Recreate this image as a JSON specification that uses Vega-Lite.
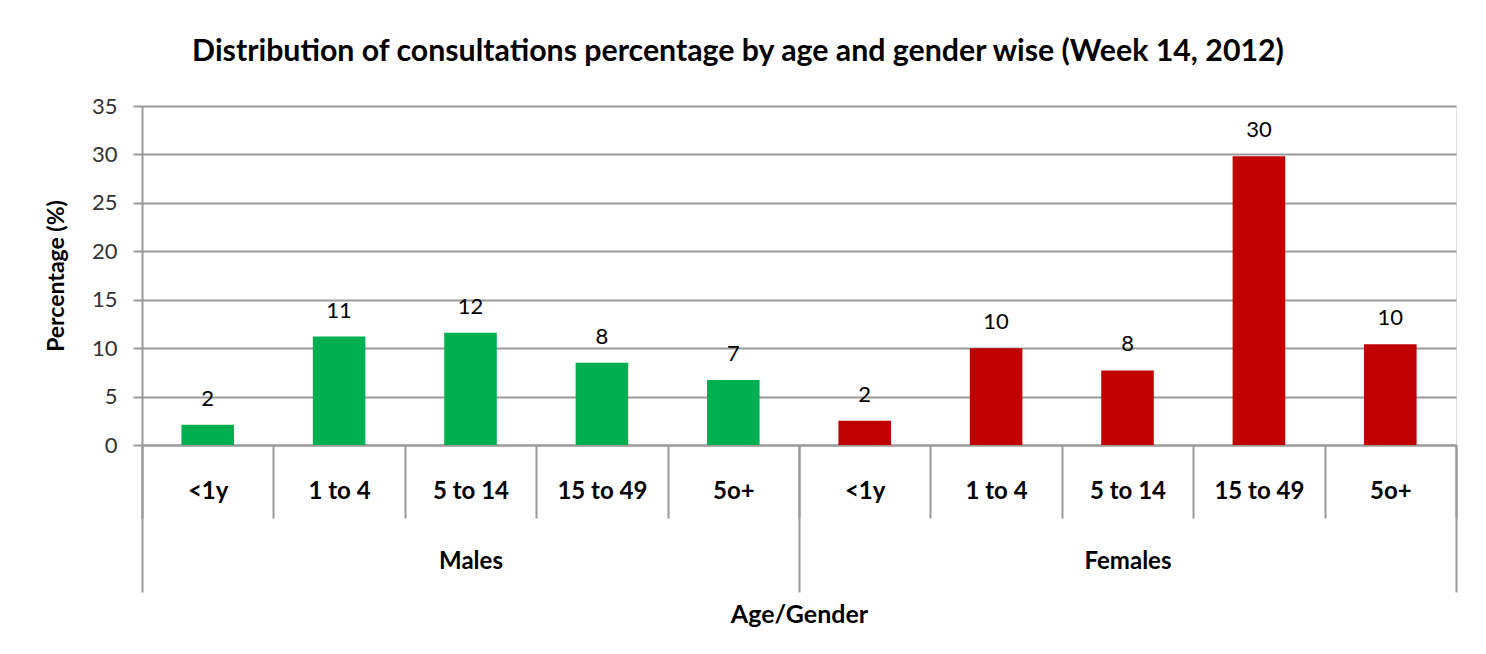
{
  "$schema": "https://vega.github.io/schema/vega-lite/v6.json",
  "width": 1314,
  "height": 339,
  "autosize": {"type": "none"},
  "padding": {"left": 142, "top": 106, "right": 30, "bottom": 209},
  "background": "white",
  "title": {
    "text": "Distribution of consultations percentage by age and gender wise (Week 14, 2012)",
    "font": "Lato",
    "fontSize": 30.3,
    "fontWeight": "bold",
    "color": "#000000",
    "anchor": "middle",
    "dx": -61,
    "offset": 28
  },
  "data": {
    "values": [
      {"gender": "Males", "age": "<1y", "key": "M <1y", "value": 2.1, "label": "2"},
      {"gender": "Males", "age": "1 to 4", "key": "M 1 to 4", "value": 11.2, "label": "11"},
      {"gender": "Males", "age": "5 to 14", "key": "M 5 to 14", "value": 11.6, "label": "12"},
      {"gender": "Males", "age": "15 to 49", "key": "M 15 to 49", "value": 8.5, "label": "8"},
      {"gender": "Males", "age": "5o+", "key": "M 5o+", "value": 6.7, "label": "7"},
      {"gender": "Females", "age": "<1y", "key": "F <1y", "value": 2.5, "label": "2"},
      {"gender": "Females", "age": "1 to 4", "key": "F 1 to 4", "value": 10.0, "label": "10"},
      {"gender": "Females", "age": "5 to 14", "key": "F 5 to 14", "value": 7.7, "label": "8"},
      {"gender": "Females", "age": "15 to 49", "key": "F 15 to 49", "value": 29.8, "label": "30"},
      {"gender": "Females", "age": "5o+", "key": "F 5o+", "value": 10.4, "label": "10"}
    ]
  },
  "layer": [
    {
      "layer": [
        {
          "mark": {"type": "bar", "width": {"band": 0.4}},
          "encoding": {
            "x": {
              "field": "key",
              "type": "nominal",
              "sort": null,
              "scale": {"paddingInner": 0, "paddingOuter": 0},
              "axis": {
                "title": null,
                "orient": "bottom",
                "labelExpr": "substring(datum.label, 2)",
                "labelAngle": 0,
                "labelFont": "Lato",
                "labelFontSize": 24,
                "labelFontWeight": "bold",
                "labelColor": "#000000",
                "labelPadding": -39,
                "tickBand": "extent",
                "tickSize": 73,
                "tickColor": "#999999",
                "tickWidth": 2,
                "domainColor": "#999999",
                "domainWidth": 2
              }
            },
            "y": {
              "field": "value",
              "type": "quantitative",
              "scale": {"domain": [0, 35]},
              "axis": {
                "title": "Percentage (%)",
                "values": [0, 5, 10, 15, 20, 25, 30, 35],
                "titleFont": "Lato",
                "titleFontSize": 23,
                "titleFontWeight": "bold",
                "titleColor": "#000000",
                "titlePadding": 23,
                "labelFont": "Lato",
                "labelFontSize": 22,
                "labelColor": "#333333",
                "labelPadding": 16,
                "tickSize": 9,
                "tickColor": "#999999",
                "tickWidth": 2,
                "domainColor": "#999999",
                "domainWidth": 2,
                "gridColor": "#999999",
                "gridWidth": 2
              }
            },
            "color": {
              "field": "gender",
              "type": "nominal",
              "scale": {"domain": ["Males", "Females"], "range": ["#00B050", "#C00000"]},
              "legend": null
            }
          }
        },
        {
          "mark": {"type": "text", "baseline": "bottom", "dy": -14, "font": "Lato", "fontSize": 22, "color": "#000000"},
          "encoding": {
            "x": {"field": "key", "type": "nominal", "sort": null},
            "y": {"field": "value", "type": "quantitative"},
            "text": {"field": "label"}
          }
        }
      ]
    },
    {
      "mark": {"type": "rule", "opacity": 0},
      "encoding": {
        "x": {
          "field": "gender",
          "type": "nominal",
          "sort": null,
          "scale": {"type": "band", "paddingInner": 0, "paddingOuter": 0},
          "axis": {
            "orient": "bottom",
            "title": "Age/Gender",
            "titleFont": "Lato",
            "titleFontSize": 25,
            "titleFontWeight": "bold",
            "titleColor": "#000000",
            "titlePadding": 9,
            "labelAngle": 0,
            "labelFont": "Lato",
            "labelFontSize": 24,
            "labelFontWeight": "bold",
            "labelColor": "#000000",
            "labelPadding": -43,
            "tickBand": "extent",
            "tickSize": 147,
            "tickColor": "#999999",
            "tickWidth": 2,
            "domain": false
          }
        }
      }
    }
  ],
  "resolve": {"scale": {"x": "independent"}, "axis": {"x": "independent"}}
}
